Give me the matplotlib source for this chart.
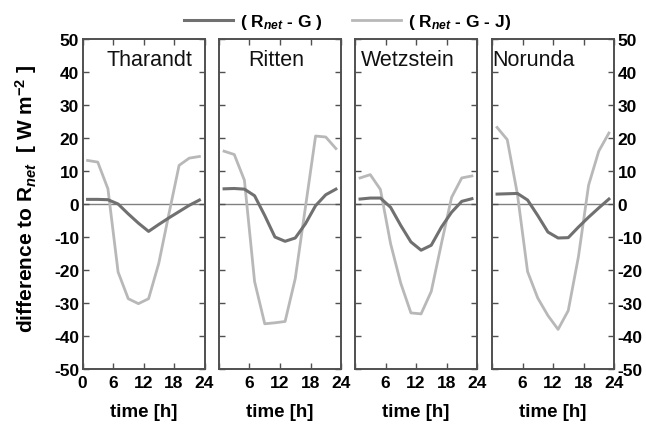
import matplotlib
matplotlib.use("Agg")
import matplotlib.pyplot as plt
from matplotlib.lines import Line2D

plt.rcParams['font.family'] = ['Liberation Sans', 'DejaVu Sans']
plt.rcParams['mathtext.fontset'] = 'custom'
plt.rcParams['mathtext.rm'] = 'Liberation Sans:bold'
plt.rcParams['mathtext.it'] = 'Liberation Sans:bold:italic'
plt.rcParams['mathtext.bf'] = 'Liberation Sans:bold'
plt.rcParams['mathtext.default'] = 'rm'
plt.rcParams['axes.unicode_minus'] = False

hours = [1, 3, 5, 7, 9, 11, 13, 15, 17, 19, 21, 23]
sites = ["Tharandt", "Ritten", "Wetzstein", "Norunda"]

rnet_g = {
    "Tharandt":  [1.4, 1.4, 1.3, 0.0, -3.0, -5.8, -8.3, -6.2, -4.2, -2.3, -0.4, 1.2],
    "Ritten":    [4.6, 4.7, 4.5, 2.5, -3.5, -10.0, -11.3, -10.3, -6.0, -0.5, 2.8, 4.5],
    "Wetzstein": [1.5, 1.8, 1.8, -1.0, -6.5, -11.5, -14.0, -12.5, -7.0, -2.5, 0.8, 1.6],
    "Norunda":   [3.0, 3.1, 3.2, 1.2, -3.5, -8.5, -10.3, -10.2, -7.0, -4.0, -1.2, 1.5],
}
rnet_g_j = {
    "Tharandt":  [13.2, 12.7, 4.6, -20.6, -28.7, -30.2, -28.7, -18.0, -3.0, 11.7, 13.9, 14.4],
    "Ritten":    [16.0, 15.0, 7.2, -23.5, -36.3, -36.0, -35.6, -22.6, -1.0, 20.6, 20.3, 16.8],
    "Wetzstein": [7.9, 8.9, 4.4, -12.0, -24.0, -33.0, -33.3, -26.5, -12.0, 2.0, 7.9, 8.5],
    "Norunda":   [23.2, 19.5, 3.0, -20.5, -28.5, -33.8, -38.0, -32.3, -16.0, 5.7, 16.0, 21.5],
}
title_x = {"Tharandt": 13.2, "Ritten": 11.2, "Wetzstein": 10.3, "Norunda": 8.1}

xticks = [0, 6, 12, 18, 24]
yticks = list(range(-50, 51, 10))

dark = '#707070'
light = '#b8b8b8'
spine_c = '#505050'

fig = plt.figure(figsize=(6.46, 4.31), dpi=100)
lefts = [82.5, 219, 355, 492]
W, H = 646, 431
axes = []
for i, (site, lx) in enumerate(zip(sites, lefts)):
    ax = fig.add_axes([lx / W, 1 - 370 / H, 122 / W, 330 / H])
    axes.append(ax)
    ax.axhline(0, color='#808080', lw=1.0, zorder=1)
    ax.plot(hours, rnet_g[site], color=dark, lw=2.2, zorder=3)
    ax.plot(hours, rnet_g_j[site], color=light, lw=2.0, zorder=2)
    ax.set_xlim(0, 24)
    ax.set_ylim(-50, 50)
    ax.set_yticks(yticks)
    ax.set_xticks(xticks)
    if i == 0:
        ax.set_xticklabels([str(t) for t in xticks])
    else:
        ax.set_xticklabels([''] + [str(t) for t in xticks[1:]])
    ax.tick_params(direction='in', top=True, right=True, left=True, bottom=True,
                   length=4.5, width=1.0, color=spine_c, labelsize=12.5, pad=4.5,
                   labelleft=(i == 0), labelright=(i == 3))
    ax.tick_params(axis='y', pad=2.5)
    for lab in ax.get_xticklabels() + ax.get_yticklabels():
        lab.set_fontweight('bold')
    for sp in ax.spines.values():
        sp.set_color(spine_c)
        sp.set_linewidth(1.4)
    ax.text(title_x[site], 47, site, ha='center', va='top', fontsize=15.5, color='#111111')
    ax.set_xlabel('time [h]', fontsize=13.5, fontweight='bold', labelpad=9)

axes[0].set_ylabel(r'difference to R$_{\mathit{net}}$  [ W m$^{-2}$ ]', fontsize=15,
                   fontweight='bold')
axes[0].yaxis.set_label_coords(-0.36, 0.52)

handles = [Line2D([], [], color=dark, lw=2.2), Line2D([], [], color=light, lw=2.0)]
labels = [r'( R$_{\mathit{net}}$ - G )', r'( R$_{\mathit{net}}$ - G - J)']
fig.legend(handles, labels, loc='center', bbox_to_anchor=(0.538, 0.947), ncol=2,
           frameon=False, prop={'weight': 'bold', 'size': 12.5}, handlelength=2.8,
           columnspacing=1.7, handletextpad=0.4)

fig.savefig('out.png', dpi=100, facecolor='white')
